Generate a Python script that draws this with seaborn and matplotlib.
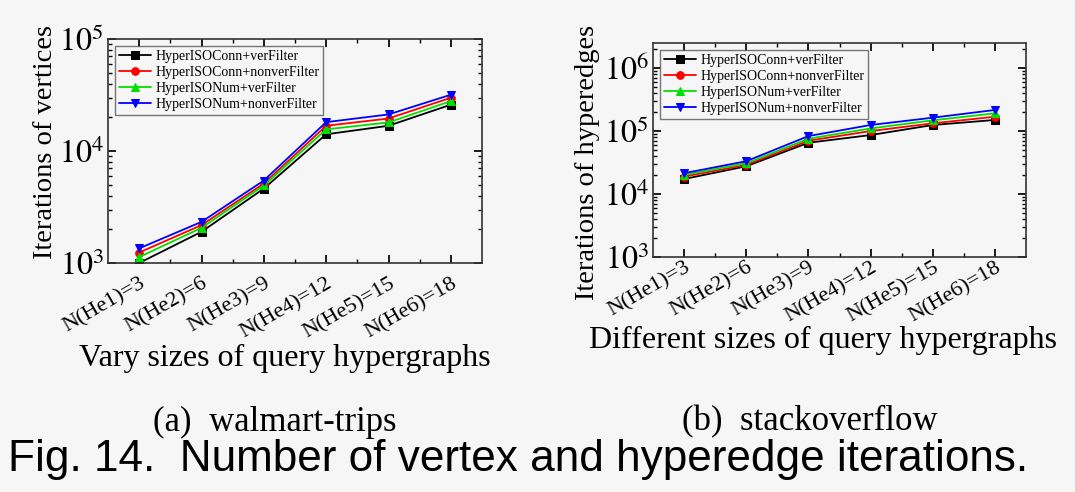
"""
plot.py - vertex / hyperedge iteration counts for two datasets.
"""
import numpy as np
import pandas as pd
import matplotlib
matplotlib.use('Agg')
import matplotlib.pyplot as plt
import matplotlib.transforms as mtransforms
from matplotlib.ticker import LogLocator, FixedLocator, NullFormatter, FuncFormatter
import seaborn as sns

# -- Data --
sizes = ['N(He1)=3', 'N(He2)=6', 'N(He3)=9', 'N(He4)=12', 'N(He5)=15', 'N(He6)=18']
methods = ['HyperISOConn+verFilter', 'HyperISOConn+nonverFilter',
           'HyperISONum+verFilter', 'HyperISONum+nonverFilter']

walmart_conn_ver = [1000, 1900, 4620, 14100, 16800, 25900]
walmart_conn_nonver = [1240, 2180, 5120, 16800, 19500, 29900]
walmart_num_ver = [1130, 2060, 4920, 15600, 18000, 27900]
walmart_num_nonver = [1350, 2330, 5450, 18100, 21200, 31800]

stack_conn_ver = [17300, 27600, 65200, 86300, 124700, 150000]
stack_conn_nonver = [18900, 29000, 70200, 100000, 132500, 169000]
stack_num_ver = [20100, 30800, 75500, 110000, 148000, 191000]
stack_num_nonver = [21400, 33200, 83200, 124700, 163000, 216000]

# -- Style --
sns.set_theme(style='ticks')
plt.rcParams['font.family'] = ['Liberation Serif', 'DejaVu Serif']
plt.rcParams['mathtext.fontset'] = 'stix'
for key in ['text.color', 'axes.labelcolor', 'xtick.color', 'ytick.color']:
    plt.rcParams[key] = 'black'
BG = '#f6f6f6'
palette = dict(zip(methods, ['black', 'red', '#00e000', 'blue']))
markers = dict(zip(methods, ['s', 'o', '^', 'v']))


def long_form(series):
    rows = []
    for m, vals in zip(methods, series):
        for s, v in zip(sizes, vals):
            rows.append({'size': s, 'method': m, 'value': v})
    return pd.DataFrame(rows)


def log_fmt(v, pos):
    return r'$10^{%d}$' % int(round(np.log10(v)))


def draw_panel(ax, df, ylim, ylabel, xlabel, ylab_pos, xlab_pos, xtick_pad, xtick_shift):
    ax.set_facecolor(BG)
    sns.lineplot(data=df, x='size', y='value', hue='method', style='method',
                 palette=palette, markers=markers, dashes=False, markersize=5.5,
                 markeredgecolor=None, linewidth=1.3, ax=ax)
    ax.set_yscale('log')
    ax.set_ylim(*ylim)
    ax.set_xlim(-0.5, len(sizes) - 0.5)
    ax.yaxis.set_major_locator(LogLocator(base=10, numticks=10))
    ax.yaxis.set_minor_locator(LogLocator(base=10, subs=np.arange(2, 10), numticks=20))
    ax.yaxis.set_major_formatter(FuncFormatter(log_fmt))
    ax.yaxis.set_minor_formatter(NullFormatter())
    ax.xaxis.set_minor_locator(FixedLocator(np.arange(0.5, len(sizes) - 1, 1.0)))
    ax.set_xticks(range(len(sizes)))
    ax.set_xticklabels(sizes, rotation=30, ha='right', va='top',
                       rotation_mode='anchor', fontsize=16)
    shift = mtransforms.ScaledTranslation(xtick_shift, 0, ax.figure.dpi_scale_trans)
    for lab in ax.get_xticklabels():
        lab.set_transform(lab.get_transform() + shift)
    ax.tick_params(axis='y', which='major', labelsize=23, length=6, direction='in',
                   right=True, pad=3)
    ax.tick_params(axis='y', which='minor', length=3, direction='in', right=True)
    ax.tick_params(axis='x', which='major', length=6, direction='in', top=True,
                   pad=xtick_pad)
    ax.tick_params(axis='x', which='minor', length=3, direction='in', top=True)
    for sp in ax.spines.values():
        sp.set_color('#333333')
        sp.set_linewidth(1.2)
    ax.set_ylabel(ylabel, fontsize=20.5)
    ax.yaxis.set_label_coords(*ylab_pos)
    ax.set_xlabel(xlabel, fontsize=23)
    ax.xaxis.set_label_coords(*xlab_pos)
    leg = ax.legend(loc='upper left', fontsize=10, frameon=True, fancybox=False,
                    borderpad=0.3, labelspacing=0.22, handlelength=2.3,
                    handletextpad=0.3, borderaxespad=0.5)
    leg.get_frame().set_edgecolor('#555555')
    leg.get_frame().set_facecolor(BG)
    leg.get_frame().set_linewidth(1.0)


fig = plt.figure(figsize=(10.75, 4.92), dpi=100, facecolor=BG)
ax1 = fig.add_axes([108 / 1075, 1 - 263 / 492, 374 / 1075, 224 / 492])
ax2 = fig.add_axes([653 / 1075, 1 - 257 / 492, 373 / 1075, 214 / 492])

draw_panel(ax1, long_form([walmart_conn_ver, walmart_conn_nonver, walmart_num_ver, walmart_num_nonver]),
           (1e3, 1e5), 'Iterations of vertices', 'Vary sizes of query hypergraphs',
           (-0.134, 0.54), (0.473, -0.36), 8, 0.10)
draw_panel(ax2, long_form([stack_conn_ver, stack_conn_nonver, stack_num_ver, stack_num_nonver]),
           (1e3, 2.5e6), 'Iterations of hyperedges', 'Different sizes of query hypergraphs',
           (-0.141, 0.44), (0.456, -0.323), 1, 0.06)

fig.text(275 / 1075, 1 - 422 / 492, '(a)  walmart-trips', ha='center', va='center', fontsize=25)
fig.text(810 / 1075, 1 - 422 / 492, '(b)  stackoverflow', ha='center', va='center', fontsize=25)
fig.text(8 / 1075, 1 - 460 / 492, 'Fig. 14.  Number of vertex and hyperedge iterations.',
         ha='left', va='center', fontsize=31.8, family=['Liberation Sans', 'DejaVu Sans'])

fig.savefig('out.png', dpi=100, facecolor=BG)
